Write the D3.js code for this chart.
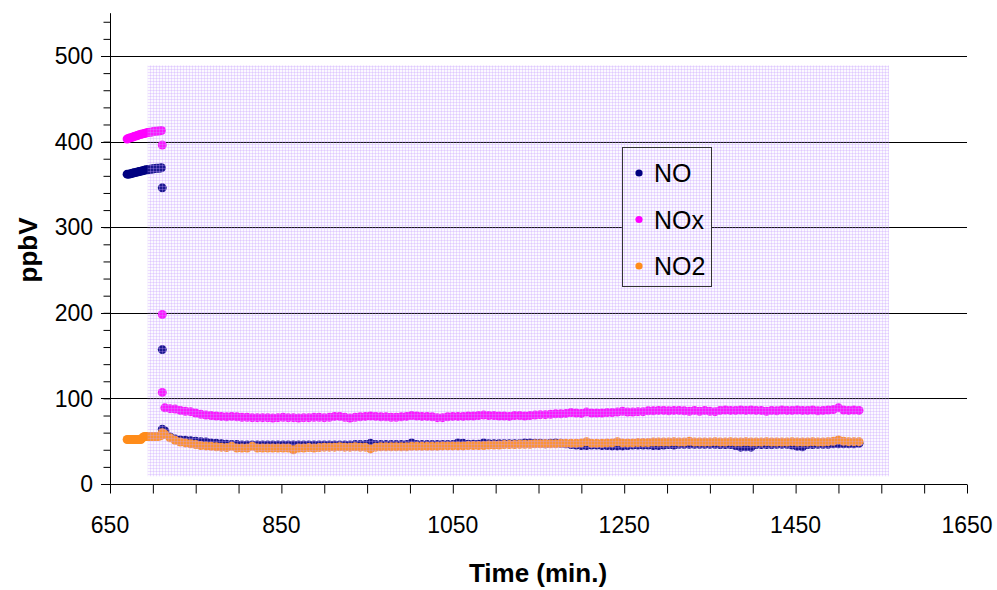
<!DOCTYPE html>
<html><head><meta charset="utf-8">
<script src="https://cdn.jsdelivr.net/npm/d3@7/dist/d3.min.js"></script>
<style>body{margin:0;background:#fff}svg{display:block}</style>
</head><body>
<svg id="c" width="997" height="590"></svg>
<script>
// ---- data ----
const seriesNames = ["NO", "NOx", "NO2"];
const seriesColors = ["#000080", "#ff00ff", "#ff8c1a"];
const xTickLabels = [650, 850, 1050, 1250, 1450, 1650];
const yTickLabels = [0, 100, 200, 300, 400, 500];

// before the drop: t = 670..710 every 2 min
const preStart = 670, preStep = 2;
const preNO  = [362,362,362.5,363,363.5,364,364.5,365,365.5,366,366.5,367,367,367.5,368,368,368.5,369,369,369,369.5];
const preNOx = [403,404,404.5,405,406,406.5,407,408,408.5,409,409.5,410,410.5,411,411,411.5,412,412,412.5,412.5,413];
const preNO2 = [52,52,52,52,52,52,52,52,52,54,55.5,55.5,55.5,55.5,55.5,55.5,55.5,55.5,55.5,56,57];

// the drop at t = 711
const dropTime = 711;
const dropNO  = [346, 157, 64];
const dropNOx = [396, 198, 107];
const dropNO2 = [60];

// after the drop: t = 714..1524 every 6 min
const postStart = 714, postStep = 6;
const postNOx = [
 89,88,87.5,86,85,84.5,83,81.5,80.5,80,
 79.5,79,78.5,79,78.5,78,78,77.5,77.5,77.5,
 77.5,77,77.5,78,77.5,77.5,77,77.5,77.5,78,
 78,77.5,78,79,79,78,77,78,78.5,79,
 79.5,79,78.5,78.5,78,78,78.5,79,80,79.5,
 79,79,78.5,77.5,77.5,78.5,79,79,79,79.5,
 79.5,80,80.5,80,80,79.5,79.5,79,80,80,
 79.5,80,80.5,81,81,81.5,82,82,82.5,83.5,
 83,82.5,84,83,83,83,83.5,83.5,84,85,
 84,84,84.5,84.5,85.5,85.5,86,86,85.5,86,
 86,85.5,85,86,85,86,85,84.5,86,86.5,
 86,86,86.5,86,86.5,86,86,85,86,85.5,
 86.5,86,86,86.5,86,86,86.5,85.5,86,86.5,
 87,89,86.5,86,86.5,86];
const postNO2 = [
 58,54,51,49,48,47,46,45,44.5,44,
 43.5,43,42.5,44,42,42,42,44,42,42,
 42,42,42,42,42,40,42,42,42.5,42,
 42.5,43,43,43,43.5,43,43,43.5,43,43,
 41,43,43.5,43.5,43.5,43.5,43.5,43.5,44,44,
 44,44,44,44,44.5,44.5,44.5,44.5,44.5,45,
 45,45,45,45.5,45.5,45.5,46,46,46,46.5,
 46.5,46.5,47,47,47,47,47,47.5,47.5,47.5,
 47.5,48,49.5,47.5,47.5,47.5,48,48,49.5,48,
 48,48,48.5,48.5,48.5,49,49,49,49,49.5,
 49,49,50,49,49,49,49,49.5,49,49,
 49.5,49,49,49.5,49,49,49,49.5,49,49,
 49,49,49.5,49,49,49,49.5,49,49,49.5,
 50,51.5,50,49.5,49.5,49.5];
const postNO = [
 62,55,52.5,51.5,51,50.5,50,49.5,49,48,
 47.5,47,46.5,46,46,45.5,45.5,45.5,45.5,45.5,
 45.5,45.5,45.5,45.5,45.5,45.5,45.5,45.5,45.5,45.5,
 45.5,45.5,45.5,45.5,45.5,45.5,45.5,46,46,46,
 47.5,46,46,46,46,46,46,46,48,46,
 46,46,46,46,46,46,46,48,47.5,46.5,
 46.5,46.5,48,47,47,47,47,47,47,47,
 48,48,47.5,47.5,47,47.5,48,47.5,47,46,
 45.5,45,45,45.5,45.5,45,45,44.5,44.5,44.5,
 45,45.5,45.5,45.5,45.5,45,45,45.5,46,45.5,
 46.5,46.5,46.5,46.5,46.5,46.5,46.5,46.5,46,46,
 46,45,43,43.5,43,46,46,46,46,46.5,
 46.5,46.5,45.5,44,43.5,46,46,46.5,46.5,46.5,
 47,47,47,47,47,47.5];

// shaded band behind the run (time, ppbV)
const bandX = [694, 1559];
const bandY = [9, 489];

// ---- build points ----
function pts(pre, drop, post){
  const out = [];
  pre.forEach((v,i)=>out.push([preStart + i*preStep, v]));
  drop.forEach(v=>out.push([dropTime, v]));
  post.forEach((v,i)=>out.push([postStart + i*postStep, v]));
  return out;
}
const data = [
  pts(preNO, dropNO, postNO),
  pts(preNOx, dropNOx, postNOx),
  pts(preNO2, dropNO2, postNO2)
];

// ---- chart ----
const svg = d3.select("#c");
const x = d3.scaleLinear().domain([650, 1650]).range([110, 967]);
const y = d3.scaleLinear().domain([0, 550]).range([484, 13.2]);
const font = "'Liberation Sans', Arial, sans-serif";

const defs = svg.append("defs");
const pat = defs.append("pattern").attr("id","hatch").attr("patternUnits","userSpaceOnUse")
  .attr("width",3).attr("height",3);
pat.append("rect").attr("width",3).attr("height",3).attr("fill","rgba(225,205,255,0.12)");
pat.append("line").attr("x1",0).attr("x2",3).attr("y1",0.5).attr("y2",0.5)
  .attr("stroke","rgba(200,160,255,0.3)").attr("stroke-width",1);
pat.append("line").attr("x1",0.5).attr("x2",0.5).attr("y1",0).attr("y2",3)
  .attr("stroke","rgba(200,160,255,0.3)").attr("stroke-width",1);

// gridlines
svg.append("g").selectAll("line").data(yTickLabels.filter(d=>d>0)).join("line")
  .attr("x1",101).attr("x2",x(1650))
  .attr("y1",d=>Math.round(y(d))+0.5).attr("y2",d=>Math.round(y(d))+0.5)
  .attr("stroke","#000").attr("stroke-width",1);

// data
data.forEach((s,k)=>{
  svg.append("g").selectAll("circle").data(s).join("circle")
    .attr("cx",d=>x(d[0])).attr("cy",d=>y(d[1])).attr("r",4.5)
    .attr("fill",seriesColors[k]);
});

// patterned band overlay
svg.append("rect")
  .attr("x",x(bandX[0])).attr("y",y(bandY[1]))
  .attr("width",x(bandX[1])-x(bandX[0])).attr("height",y(bandY[0])-y(bandY[1]))
  .attr("fill","url(#hatch)");

// y axis
const yAxis = d3.axisLeft(y).tickValues(d3.range(0, 541, 20)).tickSize(7).tickFormat("");
const gy = svg.append("g").attr("transform","translate(110.5,0)").call(yAxis);
gy.select(".domain").attr("d",`M0,${y(550)}V${y(0)+9}`).attr("stroke","#000");
gy.selectAll(".tick line").attr("stroke","#000");
svg.append("g").selectAll("text").data(yTickLabels).join("text")
  .attr("x",93).attr("y",d=>y(d)).attr("dy","0.36em").attr("text-anchor","end")
  .attr("font-family",font).attr("font-size",23).text(d=>d);

// x axis
const xAxis = d3.axisBottom(x).tickValues(d3.range(650, 1651, 50)).tickSize(9).tickFormat("");
const gx = svg.append("g").attr("transform",`translate(0,${Math.round(y(0))+0.5})`).call(xAxis);
gx.select(".domain").attr("d",`M101,0H${x(1650)}`).attr("stroke","#000");
gx.selectAll(".tick line").attr("stroke","#000");
svg.append("g").selectAll("text").data(xTickLabels).join("text")
  .attr("x",d=>x(d)).attr("y",533).attr("text-anchor","middle")
  .attr("font-family",font).attr("font-size",23).text(d=>d);

// axis titles
svg.append("text").attr("transform","translate(37,250) rotate(-90)")
  .attr("text-anchor","middle").attr("font-family",font).attr("font-weight","bold")
  .attr("font-size",26).text("ppbV");
svg.append("text").attr("x",538).attr("y",582)
  .attr("text-anchor","middle").attr("font-family",font).attr("font-weight","bold")
  .attr("font-size",26).text("Time (min.)");

// legend
const lg = svg.append("g");
lg.append("rect").attr("x",622.5).attr("y",147.5).attr("width",89).attr("height",139).attr("fill","#fff");
lg.append("rect").attr("x",622.5).attr("y",147.5).attr("width",89).attr("height",139)
  .attr("fill","url(#hatch)").attr("stroke","#333").attr("stroke-width",1);
seriesNames.forEach((n,i)=>{
  const yy = 173 + i*46.5;
  lg.append("circle").attr("cx",639).attr("cy",yy).attr("r",3.6).attr("fill",seriesColors[i]);
  lg.append("text").attr("x",654).attr("y",yy).attr("dy","0.36em")
    .attr("font-family",font).attr("font-size",25).text(n);
});
</script>
</body></html>
